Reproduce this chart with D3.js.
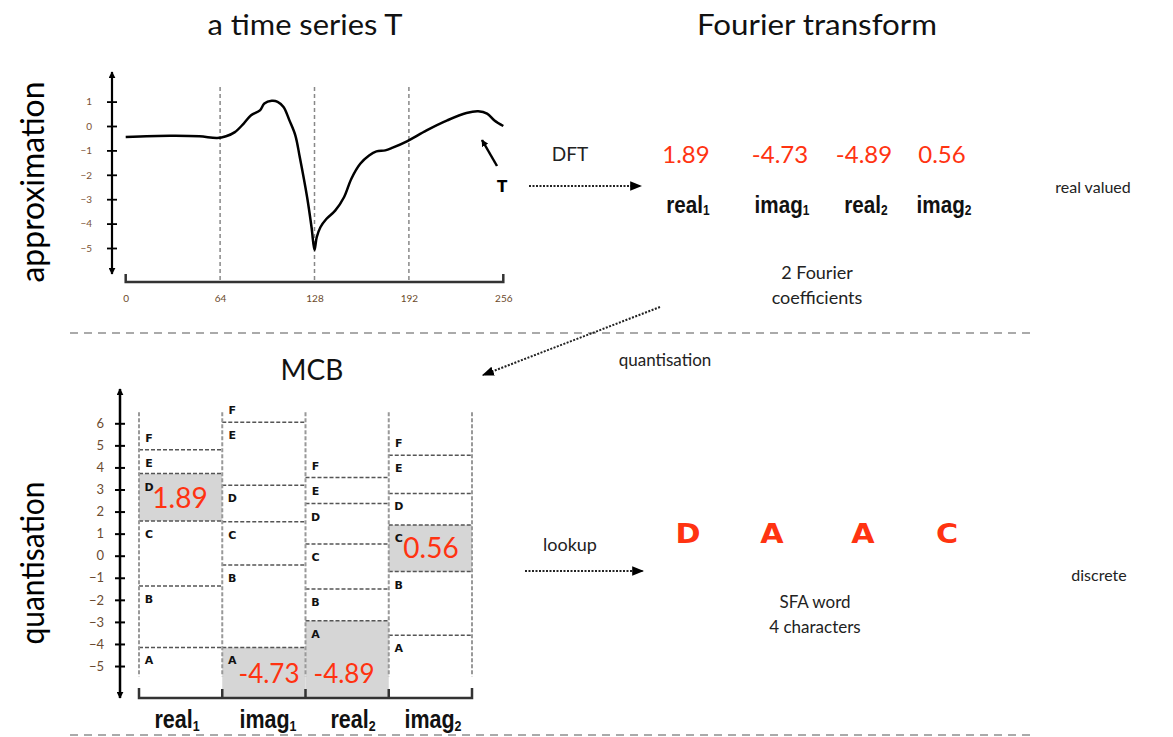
<!DOCTYPE html>
<html>
<head>
<meta charset="utf-8">
<script src="https://cdn.jsdelivr.net/npm/d3@7"></script>
<style>
  body { margin: 0; background: #fff; }
  svg text { font-family: Lato, "Open Sans", sans-serif; }
  svg text.cond { font-family: "Liberation Sans", Arial, sans-serif; font-weight: bold; }
  svg text.heavy { font-family: "DejaVu Sans", "Liberation Sans", sans-serif; font-weight: 900; }
</style>
</head>
<body>
<script>
// time series T (index -> value)
var tsIndex = [0, 30, 50, 62, 68, 74, 80, 85, 91, 94, 99, 103, 107, 111, 115, 118, 123, 126, 128,
               129.5, 132, 136, 142, 148, 153, 159, 165, 170, 176, 181, 191, 204, 218, 231, 239, 245, 250, 256];
var tsValue = [-0.45, -0.40, -0.42, -0.49, -0.42, -0.25, 0.10, 0.44, 0.64, 0.92, 1.03, 0.99, 0.78, 0.23, -0.38, -1.27, -2.92, -4.15, -5.08,
               -4.56, -4.15, -3.81, -3.47, -2.92, -2.16, -1.55, -1.21, -1.04, -1.00, -0.89, -0.62, -0.18, 0.23, 0.53, 0.60, 0.51, 0.23, 0];
var tsXTicks = [0, 64, 128, 192, 256];
var tsYTicks = [-5, -4, -3, -2, -1, 0, 1];
var tsSegments = [64, 128, 192];

// Fourier coefficients
var coefNames = ["real", "imag", "real", "imag"];
var coefSubs = ["1", "1", "2", "2"];
var coefValues = ["1.89", "-4.73", "-4.89", "0.56"];

// MCB breakpoints per coefficient (A|B, B|C, C|D, D|E, E|F)
var mcbBreaks = [
  [-4.16, -1.37, 1.57, 3.72, 4.80],
  [-4.16, -0.42, 1.54, 3.19, 6.05],
  [-2.95, -1.51, 0.53, 2.36, 3.54],
  [-3.61, -0.72, 1.39, 2.82, 4.55]
];
var symbols = ["A", "B", "C", "D", "E", "F"];
var sfaWord = [3, 0, 0, 2]; // D A A C
var mcbYTicks = [-5, -4, -3, -2, -1, 0, 1, 2, 3, 4, 5, 6];

var W = 1173, H = 737;
var red = "#ff3311";
var svg = d3.select("body").append("svg").attr("width", W).attr("height", H);

var defs = svg.append("defs");
defs.append("marker").attr("id", "ah").attr("viewBox", "0 0 10 10").attr("refX", 9).attr("refY", 5)
    .attr("markerWidth", 7).attr("markerHeight", 7).attr("markerUnits", "userSpaceOnUse")
    .attr("orient", "auto-start-reverse")
  .append("path").attr("d", "M0,0L10,5L0,10z").attr("fill", "#000");
defs.append("marker").attr("id", "ah2").attr("viewBox", "0 0 10 10").attr("refX", 9).attr("refY", 5)
    .attr("markerWidth", 12).attr("markerHeight", 12).attr("markerUnits", "userSpaceOnUse")
    .attr("orient", "auto")
  .append("path").attr("d", "M0,1L10,5L0,9z").attr("fill", "#000");

// condensed bold label with subscript, e.g. real1
function subLabel(sel, x, y, i, size) {
  var t = sel.append("g").attr("transform", "translate(" + x + "," + y + ") scale(0.86,1)")
    .append("text").attr("class", "cond").attr("text-anchor", "middle")
    .attr("font-size", size).attr("fill", "#111");
  t.append("tspan").text(coefNames[i]);
  t.append("tspan").attr("font-size", size * 0.58).attr("dy", size * 0.1).text(coefSubs[i]);
}

function dottedArrow(x1, y1, x2, y2) {
  svg.append("line").attr("x1", x1).attr("y1", y1).attr("x2", x2).attr("y2", y2)
    .attr("stroke", "#222").attr("stroke-width", 2).attr("stroke-dasharray", "2,1.5")
    .attr("marker-end", "url(#ah2)");
}

function plain(x, y, size, txt, len) {
  var t = svg.append("text").attr("x", x).attr("y", y).attr("text-anchor", "middle")
    .attr("font-size", size).attr("fill", "#222").text(txt);
  if (len) t.attr("textLength", len).attr("lengthAdjust", "spacingAndGlyphs");
  return t;
}

// titles
plain(305, 35, 28, "a time series T", 195).attr("fill", "#111");
plain(817, 35, 28, "Fourier transform", 240).attr("fill", "#111");
svg.append("text").attr("transform", "translate(44,182) rotate(-90)").attr("text-anchor", "middle")
  .attr("font-size", 33).attr("textLength", 201).attr("lengthAdjust", "spacingAndGlyphs").text("approximation");
svg.append("text").attr("transform", "translate(44,563) rotate(-90)").attr("text-anchor", "middle")
  .attr("font-size", 33).attr("textLength", 163).attr("lengthAdjust", "spacingAndGlyphs").text("quantisation");

// ---------- time series chart ----------
var xTs = d3.scaleLinear().domain([0, 256]).range([125.7, 503.3]);
var yTs = d3.scaleLinear().domain([0, 1]).range([126, 101.6]);
var ts = svg.append("g");

ts.selectAll(".seg").data(tsSegments).enter().append("line")
  .attr("x1", xTs).attr("x2", xTs).attr("y1", 87).attr("y2", 282)
  .attr("stroke", "#888").attr("stroke-width", 1.5).attr("stroke-dasharray", "4,3");

// y axis
ts.append("line").attr("x1", 112).attr("x2", 112).attr("y1", 72).attr("y2", 274)
  .attr("stroke", "#000").attr("stroke-width", 2.2)
  .attr("marker-start", "url(#ah)").attr("marker-end", "url(#ah)");
var yAxTs = ts.append("g").attr("transform", "translate(112,0)")
  .call(d3.axisLeft(yTs).tickValues(tsYTicks).tickSize(5).tickFormat(d3.format("d")));
yAxTs.select(".domain").remove();
yAxTs.selectAll(".tick line").attr("x1", -5).attr("x2", 5).attr("stroke-width", 1.8);
yAxTs.selectAll(".tick text").attr("x", -20).attr("font-size", 10).attr("font-family", "Lato")
  .attr("fill", "#7a5234");

// x axis (bracket)
var xAxTs = ts.append("g").attr("transform", "translate(0,282)")
  .call(d3.axisBottom(xTs).tickValues(tsXTicks).tickSize(0).tickPadding(13));
xAxTs.select(".domain").attr("stroke-width", 2.5).attr("stroke", "#333")
  .attr("d", "M" + xTs(0) + ",-8V0H" + xTs(256) + "V-8");
xAxTs.selectAll(".tick text").attr("font-size", 10).attr("font-family", "Lato").attr("fill", "#6b4a2a");

ts.append("path").datum(d3.zip(tsIndex, tsValue))
  .attr("d", d3.line().x(function(d) { return xTs(d[0]); }).y(function(d) { return yTs(d[1]); })
    .curve(d3.curveCatmullRom.alpha(0.5)))
  .attr("fill", "none").attr("stroke", "#000").attr("stroke-width", 2.5);

// T pointer
ts.append("line").attr("x1", 497).attr("y1", 166).attr("x2", 482).attr("y2", 140)
  .attr("stroke", "#000").attr("stroke-width", 2.5).attr("marker-end", "url(#ah)");
ts.append("text").attr("class", "heavy").attr("x", 502).attr("y", 192).attr("text-anchor", "middle")
  .attr("font-size", 15).text("T");

// ---------- Fourier part ----------
plain(570, 161, 19, "DFT");
dottedArrow(529, 186, 641, 186);

var coefX = [686, 780, 864, 942];
coefValues.forEach(function(v, i) {
  svg.append("text").attr("x", coefX[i]).attr("y", 163).attr("text-anchor", "middle")
    .attr("font-size", 24).attr("fill", red).text(v);
  subLabel(svg, coefX[i] + 2, 213, i, 24);
});
plain(817, 279, 18, "2 Fourier");
plain(817, 304, 18, "coefficients");
plain(1093, 193, 16, "real valued");

// separators
[333, 735].forEach(function(y) {
  svg.append("line").attr("x1", 70).attr("x2", 1035).attr("y1", y).attr("y2", y)
    .attr("stroke", "#aaa").attr("stroke-width", 2).attr("stroke-dasharray", "8,6");
});

dottedArrow(660, 307, 483, 375);
plain(665, 366, 17, "quantisation");
plain(312, 380, 28, "MCB").attr("fill", "#111");

// ---------- MCB chart ----------
var yM = d3.scaleLinear().domain([0, 6]).range([555.7, 423.3]);
var xM = d3.scaleBand().domain(d3.range(4)).range([139, 472]).padding(0);
var mcb = svg.append("g");
var topV = 6.5, lineBot = -5.47, shadeBot = -6.4;

mcbBreaks.forEach(function(br, c) {
  var x0 = xM(c), bw = xM.bandwidth();
  var edges = [shadeBot].concat(br).concat([topV]);
  var s = sfaWord[c];
  var lo = edges[s], hi = edges[s + 1];
  mcb.append("rect").attr("x", x0).attr("width", bw).attr("y", yM(hi)).attr("height", yM(lo) - yM(hi))
    .attr("fill", "#d6d6d6");
  mcb.selectAll(".br" + c).data(br).enter().append("line")
    .attr("x1", x0).attr("x2", x0 + bw).attr("y1", yM).attr("y2", yM)
    .attr("stroke", "#555").attr("stroke-width", 1.5).attr("stroke-dasharray", "4,2");
  symbols.forEach(function(sym, k) {
    var y = k < 5 ? yM(edges[k + 1]) + 17 : yM(br[4]) - 8;
    if (k === 0) y = yM(br[0]) + 17;
    mcb.append("text").attr("class", "heavy").attr("x", x0 + 10).attr("y", y).attr("text-anchor", "middle")
      .attr("font-size", 11).attr("fill", "#111").text(sym);
  });
});
// vertical dashed column borders
mcb.selectAll(".vb").data(d3.range(5)).enter().append("line")
  .attr("x1", function(i) { return 139 + i * xM.bandwidth(); })
  .attr("x2", function(i) { return 139 + i * xM.bandwidth(); })
  .attr("y1", yM(topV)).attr("y2", yM(lineBot))
  .attr("stroke", "#999").attr("stroke-width", 2).attr("stroke-dasharray", "4,2");

// red values in shaded cells
var valPos = [[180, 508], [269, 683], [344, 683], [431, 558]];
coefValues.forEach(function(v, i) {
  mcb.append("text").attr("x", valPos[i][0]).attr("y", valPos[i][1]).attr("text-anchor", "middle")
    .attr("font-size", i === 1 || i === 2 ? 26 : 28).attr("fill", red).text(v);
});

// y axis
mcb.append("line").attr("x1", 120).attr("x2", 120).attr("y1", 389).attr("y2", 698)
  .attr("stroke", "#000").attr("stroke-width", 2.5)
  .attr("marker-start", "url(#ah)").attr("marker-end", "url(#ah)");
var yAxM = mcb.append("g").attr("transform", "translate(120,0)")
  .call(d3.axisLeft(yM).tickValues(mcbYTicks).tickSize(5).tickFormat(d3.format("d")));
yAxM.select(".domain").remove();
yAxM.selectAll(".tick line").attr("x1", -5).attr("x2", 5).attr("stroke-width", 2);
yAxM.selectAll(".tick text").attr("x", -16).attr("font-size", 13).attr("font-family", "Lato").attr("fill", "#6a4a30");

// bottom bracket
var brk = "M139,688V698H472V688";
d3.range(1, 4).forEach(function(i) { brk += "M" + (139 + i * xM.bandwidth()) + ",689V698"; });
mcb.append("path").attr("d", brk).attr("fill", "none").attr("stroke", "#333").attr("stroke-width", 2.5);

var labX = [177, 268, 353, 433];
d3.range(4).forEach(function(i) {
  subLabel(mcb, labX[i], 728, i, 25);
});

// ---------- SFA word ----------
plain(570, 551, 18, "lookup");
dottedArrow(525, 571, 643, 571);
var wordX = [688, 772, 863, 947];
sfaWord.forEach(function(s, i) {
  svg.append("g").attr("transform", "translate(" + wordX[i] + ",543) scale(1.12,1)")
    .append("text").attr("class", "heavy").attr("text-anchor", "middle")
    .attr("font-size", 27).attr("fill", red).text(symbols[s]);
});
plain(815, 608, 17, "SFA word");
plain(815, 633, 17, "4 characters");
plain(1099, 581, 16, "discrete");
</script>
</body>
</html>
